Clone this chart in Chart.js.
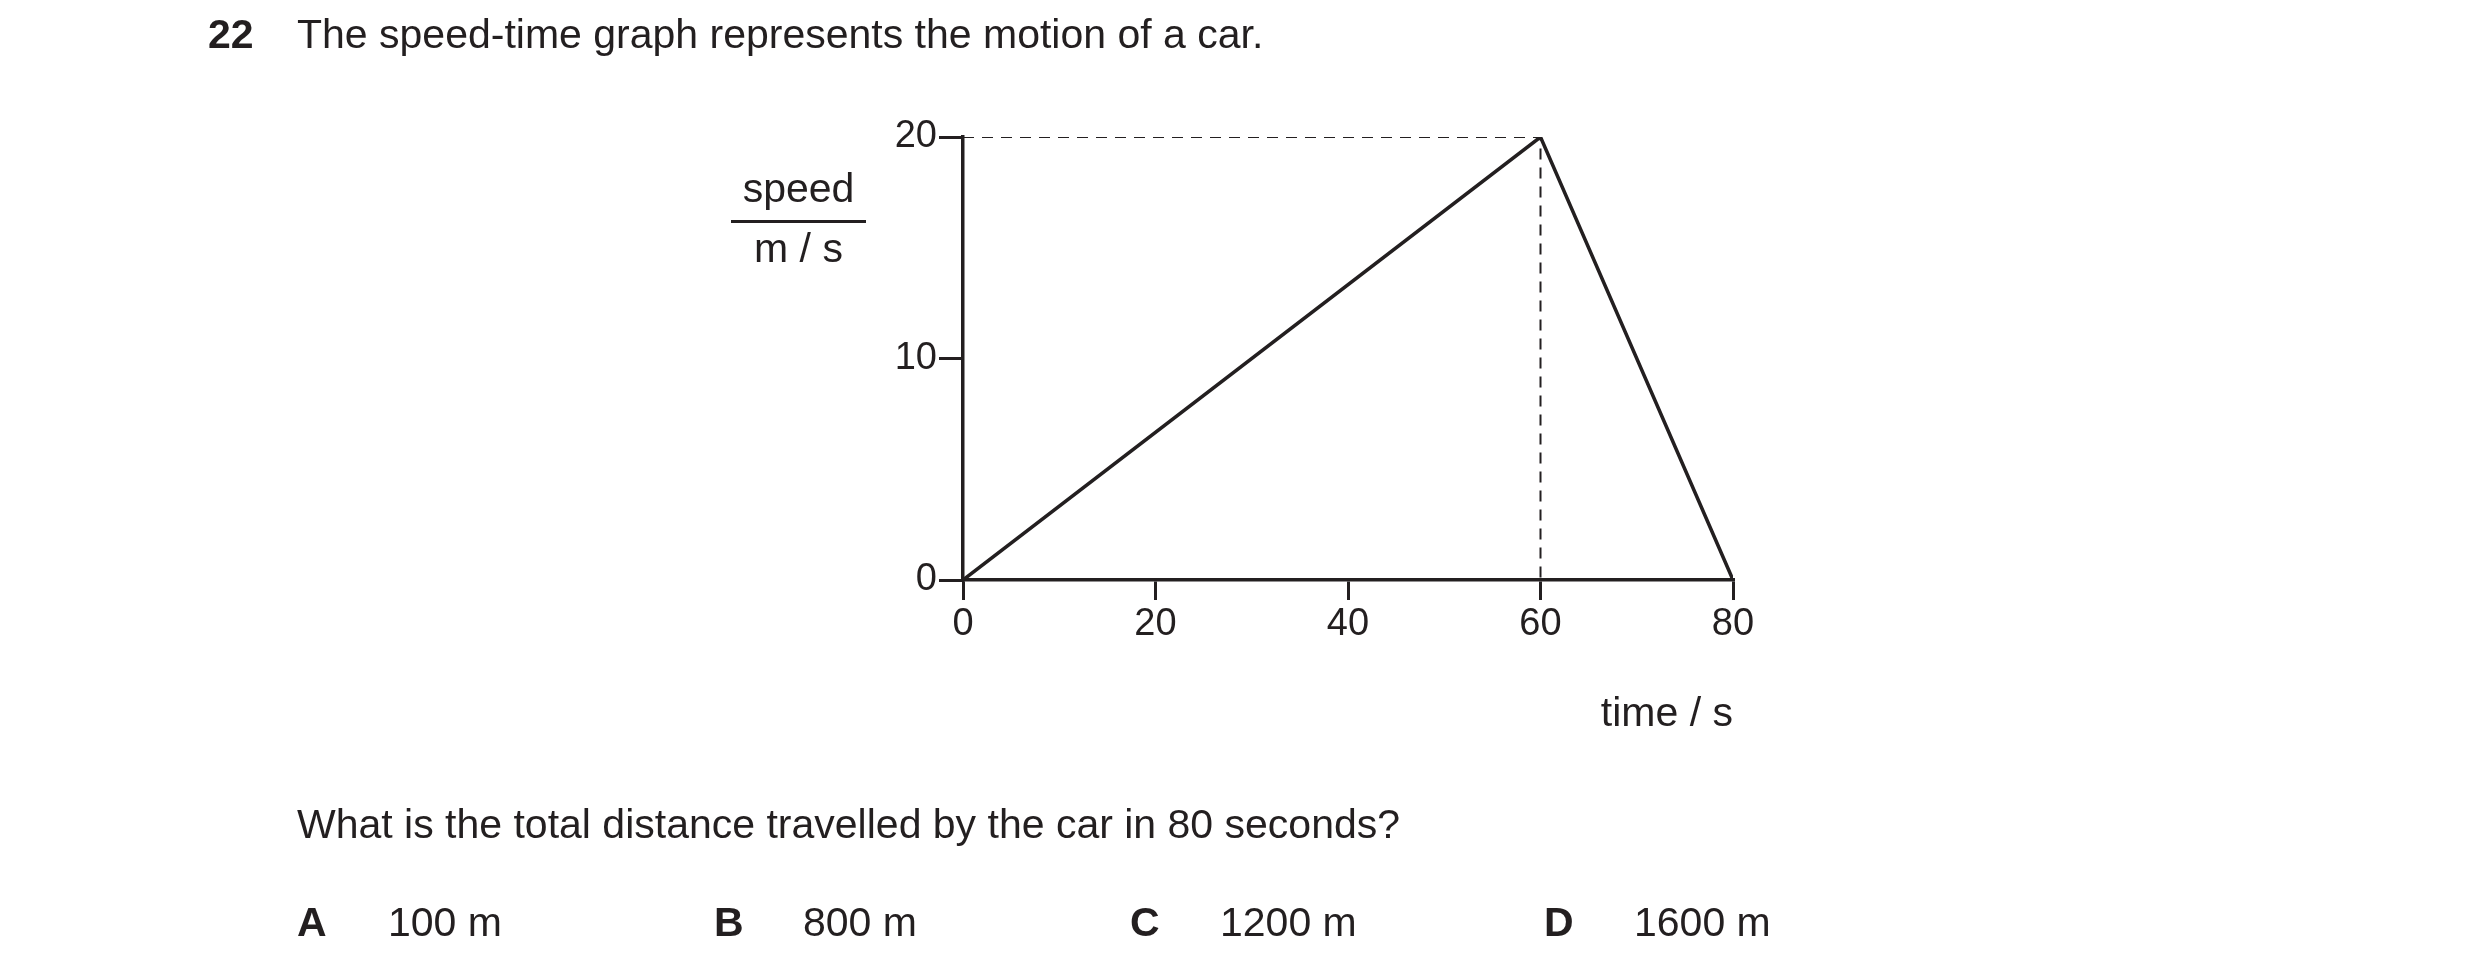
<!DOCTYPE html>
<html>
<head>
<meta charset="utf-8">
<script src="https://cdn.jsdelivr.net/npm/chart.js@4/dist/chart.umd.min.js"></script>
<style>
  body { margin: 0; background: #fff; font-family: "Liberation Sans", Arial, sans-serif; color: #231f20; }
  #wrap { position: relative; width: 2480px; height: 972px; }
  canvas { position: absolute; left: 0; top: 0; }
  .t { position: absolute; font-size: 41px; white-space: nowrap; line-height: 1; }
  .b { font-weight: bold; }
</style>
</head>
<body>
<div id="wrap">
  <canvas id="myChart" width="2480" height="972"></canvas>
  <div class="t b" style="left:208px;top:14px">22</div>
  <div class="t" style="left:297px;top:14px">The speed-time graph represents the motion of a car.</div>
  <div class="t" style="left:731px;top:168px;width:135px;text-align:center">speed</div>
  <div style="position:absolute;left:731px;top:220px;width:135px;height:3px;background:#231f20"></div>
  <div class="t" style="left:731px;top:228px;width:135px;text-align:center">m / s</div>
  <div class="t" style="left:1533px;top:692px;width:200px;text-align:right">time / s</div>
  <div class="t" style="left:297px;top:804px">What is the total distance travelled by the car in 80 seconds?</div>
  <div class="t b" style="left:297px;top:902px">A</div>
  <div class="t" style="left:388px;top:902px">100 m</div>
  <div class="t b" style="left:714px;top:902px">B</div>
  <div class="t" style="left:803px;top:902px">800 m</div>
  <div class="t b" style="left:1130px;top:902px">C</div>
  <div class="t" style="left:1220px;top:902px">1200 m</div>
  <div class="t b" style="left:1544px;top:902px">D</div>
  <div class="t" style="left:1634px;top:902px">1600 m</div>
</div>
<script>
const times = [0, 60, 80];
const speeds = [0, 20, 0];
const xTicks = [0, 20, 40, 60, 80];
const yTicks = [0, 10, 20];
const peakTime = 60;
const peakSpeed = 20;

const ink = '#231f20';
const graph = times.map((t, i) => ({ x: t, y: speeds[i] }));
const guide = [{ x: 0, y: peakSpeed }, { x: peakTime, y: peakSpeed }, { x: peakTime, y: 0 }];

const myChart = new Chart(document.getElementById('myChart'), {
  type: 'scatter',
  data: {
    datasets: [
      { data: guide, showLine: true, borderColor: ink, borderWidth: 2, borderDash: [11, 8], pointRadius: 0, fill: false },
      { data: graph, showLine: true, borderColor: ink, borderWidth: 3.5, pointRadius: 0, fill: false }
    ]
  },
  options: {
    responsive: false,
    animation: false,
    plugins: { legend: { display: false }, tooltip: { enabled: false } },
    layout: { padding: { left: 863, right: 747, top: 137, bottom: 332 } },
    scales: {
      x: {
        type: 'linear', min: 0, max: 80,
        afterFit: s => { s.height = 60; },
        afterBuildTicks: s => { s.ticks = xTicks.map(v => ({ value: v })); },
        border: { color: ink, width: 3.5 },
        grid: { drawOnChartArea: false, drawTicks: true, tickLength: 20, color: ink, lineWidth: 3 },
        ticks: { color: ink, font: { size: 38, family: 'Liberation Sans' }, padding: 2 }
      },
      y: {
        min: 0, max: 20,
        afterFit: s => { s.width = 100; },
        afterBuildTicks: s => { s.ticks = yTicks.map(v => ({ value: v })); },
        border: { color: ink, width: 3.5 },
        grid: { drawOnChartArea: false, drawTicks: true, tickLength: 24, color: ink, lineWidth: 3 },
        ticks: { color: ink, font: { size: 38, family: 'Liberation Sans' }, padding: 2 }
      }
    }
  }
});
</script>
</body>
</html>
